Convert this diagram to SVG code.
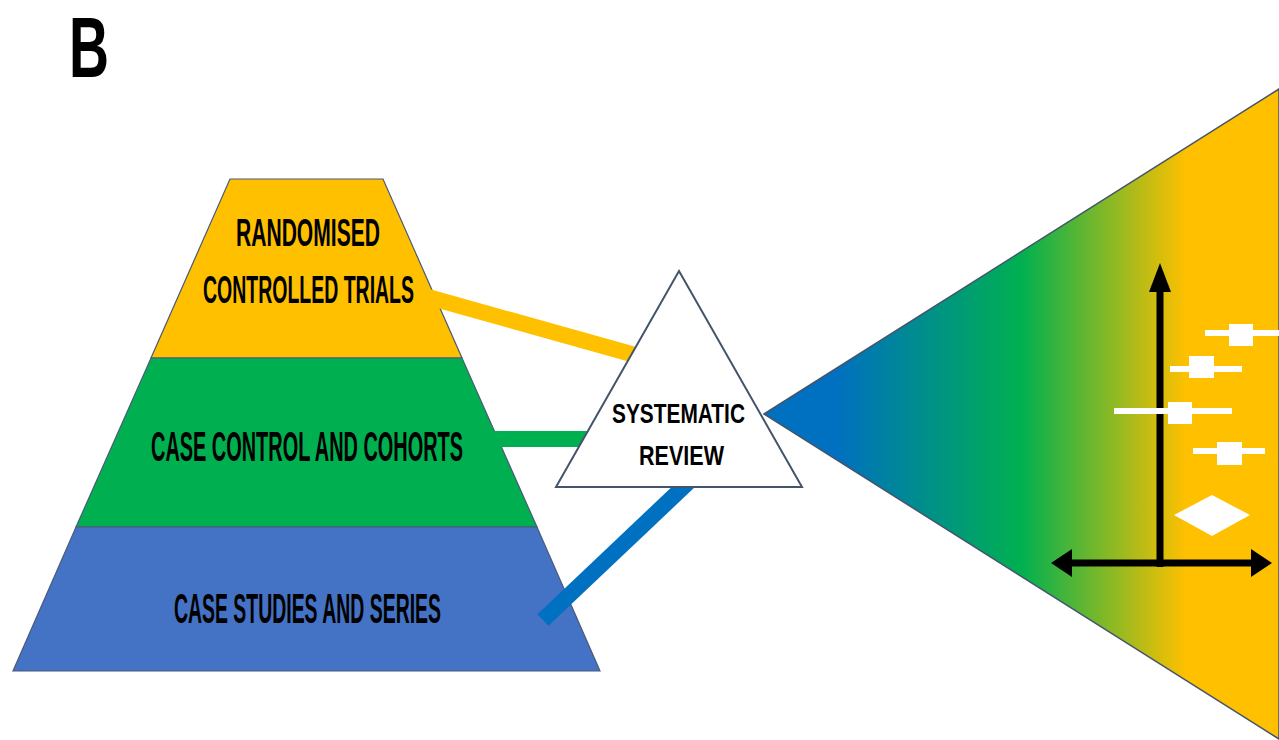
<svg xmlns="http://www.w3.org/2000/svg" width="1279" height="740" viewBox="0 0 1279 740">
<style>
.lbl{font-family:"Liberation Sans",Arial,sans-serif;font-weight:bold;fill:#000;}
.edge{stroke:#4a5a78;stroke-width:1.2;}
.conn{fill:none;stroke-linecap:butt;stroke-width:16;}
.wbar{stroke:#fff;stroke-width:6;}
</style>
<defs>
<linearGradient id="grad" gradientUnits="userSpaceOnUse" x1="764" y1="0" x2="1279" y2="0">
<stop offset="0" stop-color="#0070C0"/>
<stop offset="0.14" stop-color="#0070C0"/>
<stop offset="0.5" stop-color="#00B050"/>
<stop offset="0.82" stop-color="#FFC000"/>
<stop offset="1" stop-color="#FFC000"/>
</linearGradient>
</defs>
<rect width="1279" height="740" fill="#fff"/>
<text class="lbl" x="69" y="77" font-size="85" textLength="40" lengthAdjust="spacingAndGlyphs">B</text>

<g id="level-rct">
<polygon class="edge" points="230,179 383,179 462,358 151,358" fill="#FFC000"/>
<text class="lbl" x="236" y="246" font-size="38" textLength="144" lengthAdjust="spacingAndGlyphs">RANDOMISED</text>
<text class="lbl" x="203" y="303" font-size="38" textLength="211" lengthAdjust="spacingAndGlyphs">CONTROLLED TRIALS</text>
</g>
<g id="level-cohort">
<polygon class="edge" points="151,358 462,358 537,527 76,527" fill="#00B050"/>
<text class="lbl" x="151" y="461" font-size="42" textLength="312" lengthAdjust="spacingAndGlyphs">CASE CONTROL AND COHORTS</text>
</g>
<g id="level-case">
<polygon class="edge" points="76,527 537,527 600,671 13,671" fill="#4472C4"/>
<text class="lbl" x="174" y="623" font-size="42" textLength="267" lengthAdjust="spacingAndGlyphs">CASE STUDIES AND SERIES</text>
</g>

<g id="meta-analysis">
<polygon points="764,414 1279,89 1279,739" fill="url(#grad)" stroke="#44546A" stroke-width="1.5"/>
<g id="forest-plot">
<rect x="1156.5" y="288" width="7" height="279" fill="#000"/>
<polygon points="1160,263 1171,292 1149,292" fill="#000"/>
<rect x="1066" y="559.5" width="190" height="7" fill="#000"/>
<polygon points="1051,563 1072,549 1072,577" fill="#000"/>
<polygon points="1272,563 1251,549 1251,577" fill="#000"/>
<line class="wbar" x1="1205" y1="333" x2="1279" y2="333"/>
<rect x="1229" y="324" width="24" height="22" fill="#fff"/>
<line class="wbar" x1="1170" y1="369" x2="1242" y2="369"/>
<rect x="1189" y="356" width="25" height="22" fill="#fff"/>
<line class="wbar" x1="1114" y1="411" x2="1232" y2="411"/>
<rect x="1168" y="402" width="24" height="22" fill="#fff"/>
<line class="wbar" x1="1193" y1="451" x2="1265" y2="451"/>
<rect x="1217" y="442" width="25" height="23" fill="#fff"/>
<polygon points="1174,515 1212,495 1250,515 1212,536" fill="#fff"/>
</g>
</g>

<g id="connectors">
<line class="conn" x1="428" y1="297" x2="660" y2="362" stroke="#FFC000"/>
<line class="conn" x1="480" y1="439" x2="610" y2="439" stroke="#00B050"/>
<line class="conn" x1="543" y1="620" x2="696" y2="475" stroke="#0070C0"/>
</g>

<g id="systematic-review">
<polygon points="679,271 802,487 556,487" fill="#fff" stroke="#44546A" stroke-width="2"/>
<text class="lbl" x="612" y="423" font-size="28" textLength="133" lengthAdjust="spacingAndGlyphs">SYSTEMATIC</text>
<text class="lbl" x="639" y="465" font-size="28" textLength="85" lengthAdjust="spacingAndGlyphs">REVIEW</text>
</g>
</svg>
